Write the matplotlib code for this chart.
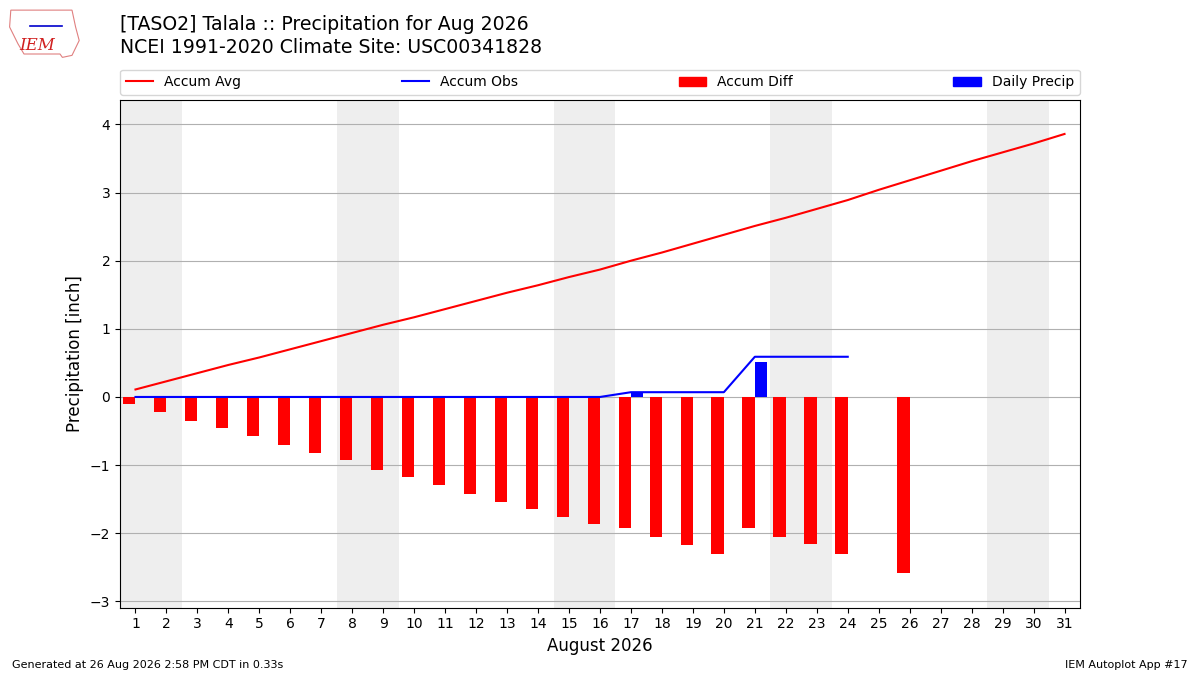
import matplotlib
matplotlib.use("Agg")
import matplotlib.pyplot as plt
import matplotlib.patches as mpatches
import numpy as np

days = list(range(1, 32))
accum_avg = [0.11, 0.23, 0.35, 0.47, 0.58, 0.70, 0.82, 0.94, 1.06, 1.17,
             1.29, 1.41, 1.53, 1.64, 1.76, 1.87, 2.00, 2.12, 2.25, 2.38,
             2.51, 2.63, 2.76, 2.89, 3.04, 3.18, 3.32, 3.46, 3.59, 3.72, 3.86]
obs_days = list(range(1, 25))
accum_obs = [0.0] * 16 + [0.07, 0.07, 0.07, 0.07, 0.59, 0.59, 0.59, 0.59]
diff_days = list(range(1, 25)) + [26]
accum_diff = [-0.10, -0.22, -0.35, -0.46, -0.58, -0.70, -0.82, -0.93, -1.07, -1.17,
              -1.29, -1.42, -1.54, -1.64, -1.76, -1.86, -1.93, -2.05, -2.18, -2.31,
              -1.92, -2.05, -2.16, -2.30, -2.58]
precip_days = [17, 21]
daily_precip = [0.07, 0.52]
weekend_starts = [1, 8, 15, 22, 29]

fig = plt.figure(figsize=(12, 6.75), dpi=100)
ax = fig.add_axes([0.1, 0.1, 0.8, 0.752])

for s in weekend_starts:
    ax.axvspan(s - 0.5, s + 1.5, color="#eeeeee", zorder=0, lw=0)

ax.grid(axis="y", color="#b0b0b0", lw=0.8, zorder=1)
ax.set_axisbelow(True)

ax.bar(diff_days, accum_diff, width=-0.4, align="edge", color="red", zorder=3)
ax.bar(precip_days, daily_precip, width=0.4, align="edge", color="blue", zorder=3)
ax.plot(days, accum_avg, color="red", lw=1.5, zorder=4)
ax.plot(obs_days, accum_obs, color="blue", lw=1.5, zorder=4)

ax.set_xlim(0.5, 31.5)
ax.set_ylim(-3.09, 4.36)
ax.set_xticks(days)
ax.set_xticklabels([str(d) for d in days], fontsize=10)
ax.set_yticks([-3, -2, -1, 0, 1, 2, 3, 4])
ax.tick_params(axis="y", labelsize=10)
ax.set_xlabel("August 2026", fontsize=12)
ax.set_ylabel("Precipitation [inch]", fontsize=12)

handles = [
    plt.Line2D([], [], color="red", lw=1.5),
    plt.Line2D([], [], color="blue", lw=1.5),
    mpatches.Patch(color="red"),
    mpatches.Patch(color="blue"),
]
labels = ["Accum Avg", "Accum Obs", "Accum Diff", "Daily Precip"]
ax.legend(handles, labels, loc="lower left", bbox_to_anchor=(0, 1.01, 1, 0.05),
          mode="expand", ncol=4, borderaxespad=0, fontsize=10)

fig.text(0.1, 0.964, "[TASO2] Talala :: Precipitation for Aug 2026", fontsize=13.6,
         va="center", ha="left")
fig.text(0.1, 0.930, "NCEI 1991-2020 Climate Site: USC00341828", fontsize=13.6,
         va="center", ha="left")

# IEM logo (simplified)
outline = mpatches.Polygon([[0.009, 0.985], [0.060, 0.985], [0.063, 0.960], [0.066, 0.940],
                            [0.060, 0.918], [0.052, 0.915], [0.050, 0.920], [0.020, 0.920],
                            [0.015, 0.935], [0.008, 0.960]],
                           closed=True, fill=False, edgecolor="#e08080", lw=0.8,
                           transform=fig.transFigure)
fig.patches.append(outline)
fig.text(0.031, 0.933, "IEM", fontsize=12, color="#d02020", family="DejaVu Serif",
         style="italic", ha="center", va="center")
fig.lines.append(plt.Line2D([0.025, 0.052], [0.962, 0.962], color="#0000cc", lw=1.2,
                            transform=fig.transFigure))

fig.text(0.01, 0.015, "Generated at 26 Aug 2026 2:58 PM CDT in 0.33s", fontsize=8,
         ha="left", va="center")
fig.text(0.99, 0.015, "IEM Autoplot App #17", fontsize=8, ha="right", va="center")

fig.savefig("out.png", dpi=100)
